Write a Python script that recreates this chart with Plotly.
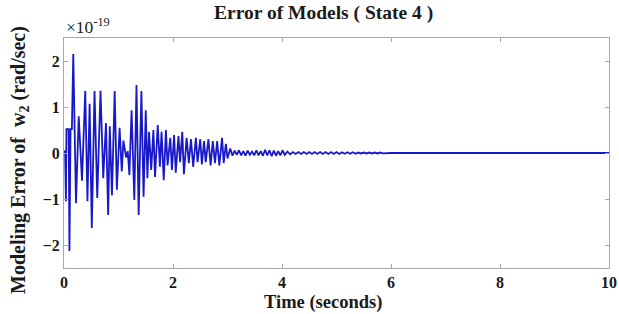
import plotly.graph_objects as go

# Values (error in units of 1e-19 rad/sec)
time_s = [
    0.00, 0.02, 0.035, 0.045, 0.085, 0.10, 0.12, 0.145, 0.17, 0.22,
    0.27, 0.33, 0.39, 0.43, 0.47, 0.51, 0.56, 0.61, 0.67, 0.72,
    0.77, 0.81, 0.84, 0.88, 0.93, 0.97, 1.02, 1.06, 1.09, 1.14,
    1.17, 1.20, 1.24, 1.29, 1.33, 1.37, 1.42, 1.46, 1.50, 1.53,
    1.56, 1.60, 1.64, 1.67, 1.72, 1.76, 1.79, 1.83, 1.87, 1.90,
    1.95, 1.98, 2.02, 2.05, 2.10, 2.13, 2.17, 2.20, 2.25, 2.29,
    2.33, 2.37, 2.42, 2.45, 2.50, 2.53, 2.57, 2.60, 2.65, 2.69,
    2.73, 2.77, 2.81, 2.85, 2.90, 2.93, 2.97, 3.00, 3.05, 3.09,
    3.13, 3.17, 3.21, 3.25, 3.29, 3.33, 3.37, 3.41, 3.45, 3.49,
    3.53, 3.57, 3.61, 3.65, 3.69, 3.73, 3.77, 3.81, 3.85, 3.89,
    3.93, 3.97, 4.01, 4.05, 4.10, 4.15, 4.20, 4.25, 4.30, 4.35,
    4.40, 4.45, 4.50, 4.55, 4.60, 4.65, 4.70, 4.75, 4.80, 4.85,
    4.90, 4.95, 5.00, 5.05, 5.10, 5.15, 5.20, 5.25, 5.30, 5.35,
    5.40, 5.45, 5.50, 5.55, 5.60, 5.65, 5.70, 5.75, 5.80, 5.85,
    6.00, 10.00,
]
error_w2 = [
    0.00, 0.05, -1.05, 0.52, 0.52, -2.13, 0.52, 0.52, 2.15, -1.09,
    0.80, -0.60, 1.35, -1.05, 1.07, -1.63, 1.35, -0.98, 1.35, -0.55,
    0.65, -1.35, 0.58, -0.92, 1.35, -0.80, 0.55, -0.40, 0.27, -0.10,
    0.04, -0.48, 0.93, -1.02, 1.48, -1.35, 1.35, -0.95, 0.93, -0.55,
    0.46, -0.37, 0.50, -0.52, 0.61, -0.30, 0.46, -0.59, 0.50, -0.27,
    0.33, -0.37, 0.39, -0.43, 0.37, -0.20, 0.46, -0.46, 0.33, -0.22,
    0.30, -0.30, 0.33, -0.20, 0.30, -0.25, 0.26, -0.20, 0.30, -0.27,
    0.26, -0.22, 0.26, -0.27, 0.33, -0.22, 0.20, -0.12, 0.10, -0.06,
    0.05, -0.04, 0.06, -0.05, 0.04, -0.06, 0.05, -0.04, 0.03, -0.05,
    0.06, -0.05, 0.04, -0.06, 0.07, -0.05, 0.06, -0.07, 0.05, -0.06,
    0.04, -0.05, 0.06, -0.04, 0.03, -0.03, 0.02, -0.02, 0.02, -0.02,
    0.02, -0.02, 0.02, -0.02, 0.02, -0.02, 0.02, -0.02, 0.02, -0.02,
    0.02, -0.02, 0.02, -0.02, 0.015, -0.015, 0.015, -0.015, 0.015, -0.015,
    0.01, -0.01, 0.01, -0.01, 0.01, -0.01, 0.01, -0.01, 0.01, -0.01,
    0.00, 0.00,
]
x_ticks = [0, 2, 4, 6, 8, 10]
y_ticks = [-2, -1, 0, 1, 2]
title_text = "Error of Models ( State 4 )"
x_title = "Time (seconds)"
y_title = "Modeling Error of  w<sub>2</sub> (rad/sec)"
exponent_text = "\u00d710<sup>-19</sup>"

FONT = "Liberation Serif"
AX = "#a8a8a8"
TXT = "#1a1a1a"

L, R, T, B = 64, 10, 38, 46
W, H = 619, 314
PW, PH = W - L - R, H - T - B


def px_x(p):
    return (p - L) / PW


def px_y(p):
    return (H - B - p) / PH


fig = go.Figure()
fig.add_trace(go.Scatter(
    x=time_s, y=error_w2, mode="lines",
    line=dict(color="#1818c8", width=1.8),
    showlegend=False,
))

axis_common = dict(
    showline=True, linecolor=AX, linewidth=1, mirror="ticks",
    ticks="inside", ticklen=4, tickcolor=AX, showgrid=False, zeroline=False,
    automargin=False,
    tickfont=dict(family=FONT, size=16, color=TXT, weight="bold"),
)

fig.update_layout(
    width=W, height=H,
    margin=dict(l=L, r=R, t=T, b=B, autoexpand=False),
    paper_bgcolor="white", plot_bgcolor="white",
    xaxis=dict(range=[0, 10], tickvals=x_ticks, **axis_common),
    yaxis=dict(range=[-2.5, 2.5], tickvals=y_ticks, **axis_common),
    annotations=[
        dict(text=exponent_text, xref="paper", yref="paper",
             x=px_x(64), y=px_y(39), xanchor="left", yanchor="bottom",
             showarrow=False, font=dict(family=FONT, size=17.5, color=TXT)),
        dict(text="<b>" + title_text + "</b>", xref="paper", yref="paper",
             x=px_x(323), y=px_y(13), xanchor="center", yanchor="middle",
             showarrow=False, font=dict(family=FONT, size=19.5, color=TXT)),
        dict(text="<b>" + x_title + "</b>", xref="paper", yref="paper",
             x=px_x(323), y=px_y(302), xanchor="center", yanchor="middle",
             showarrow=False, font=dict(family=FONT, size=18.5, color=TXT)),
        dict(text="<b>" + y_title + "</b>", xref="paper", yref="paper",
             x=px_x(19), y=px_y(160), xanchor="center", yanchor="middle",
             textangle=-90, showarrow=False,
             font=dict(family=FONT, size=20, color=TXT)),
    ],
)

fig.write_html(
    "out.html",
    config={"displayModeBar": False},
    post_script="document.body.style.margin='0';document.body.style.padding='0';",
)
